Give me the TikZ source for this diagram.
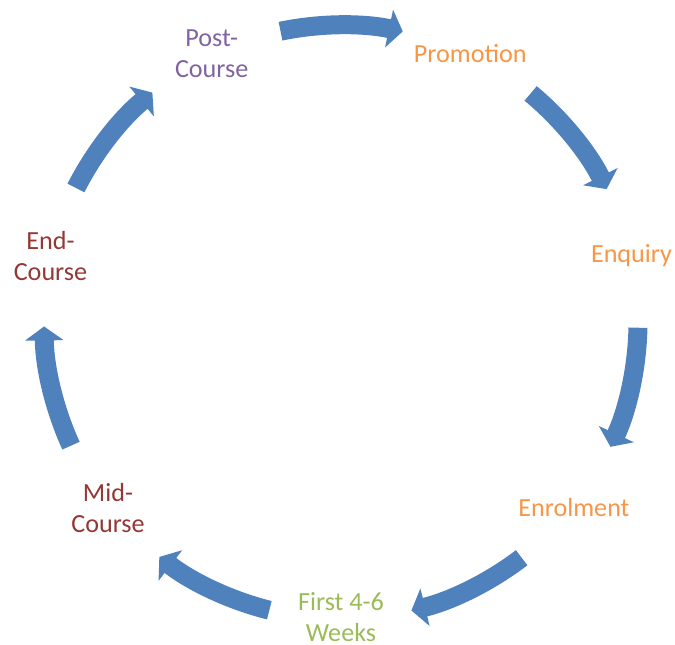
\documentclass[tikz,border=0pt]{standalone}
\usepackage{fontspec}
\setmainfont{Carlito}
\usetikzlibrary{arrows.meta,calc}
\definecolor{arrowblue}{HTML}{4F81BD}
\definecolor{txtorange}{HTML}{F79646}
\definecolor{txtpurple}{HTML}{8064A2}
\definecolor{txtred}{HTML}{953735}
\definecolor{txtgreen}{HTML}{9BBB59}
\begin{document}
\begin{tikzpicture}[x=0.75pt,y=0.75pt,
  lbl/.style={font=\fontsize{19.6}{23.4}\selectfont, align=center, inner sep=0pt},
  cyc/.style={arrowblue, line width=14.25pt, -{Triangle[length=10.5pt,width=28.5pt]}}]
\useasboundingbox (0,0) rectangle (675,645);
\coordinate (c) at (341,323);
% labels
\node[lbl, text=txtpurple] (post)   at ($(c)+(115.714:298)$) {Post-\\Course};
\node[lbl, text=txtorange] (promo)  at ($(c)+(64.286:298)$)  {Promotion};
\node[lbl, text=txtorange] (enq)    at ($(c)+(12.857:298)$)  {Enquiry};
\node[lbl, text=txtorange] (enrol)  at ($(c)+(-38.571:298)$) {Enrolment};
\node[lbl, text=txtgreen]  (first)  at ($(c)+(-90:295)$)     {First 4-6\\Weeks};
\node[lbl, text=txtred]    (mid)    at ($(c)+(-141.429:298)$) {Mid-\\Course};
\node[lbl, text=txtred]    (endc)   at ($(c)+(167.143:298)$) {End-\\Course};
% cycle arrows
\foreach \i in {0,...,6}{
  \pgfmathsetmacro\sa{90-\i*360/7+11.75}
  \pgfmathsetmacro\ea{90-\i*360/7-12}
  \coordinate (s\i) at ($(c)+(\sa:297)$);
  \coordinate (e\i) at ($(c)+(\ea:297)$);
  \draw[cyc] (s\i) to[bend left=11.875, looseness=0.85] (e\i);
}
\end{tikzpicture}
\end{document}
